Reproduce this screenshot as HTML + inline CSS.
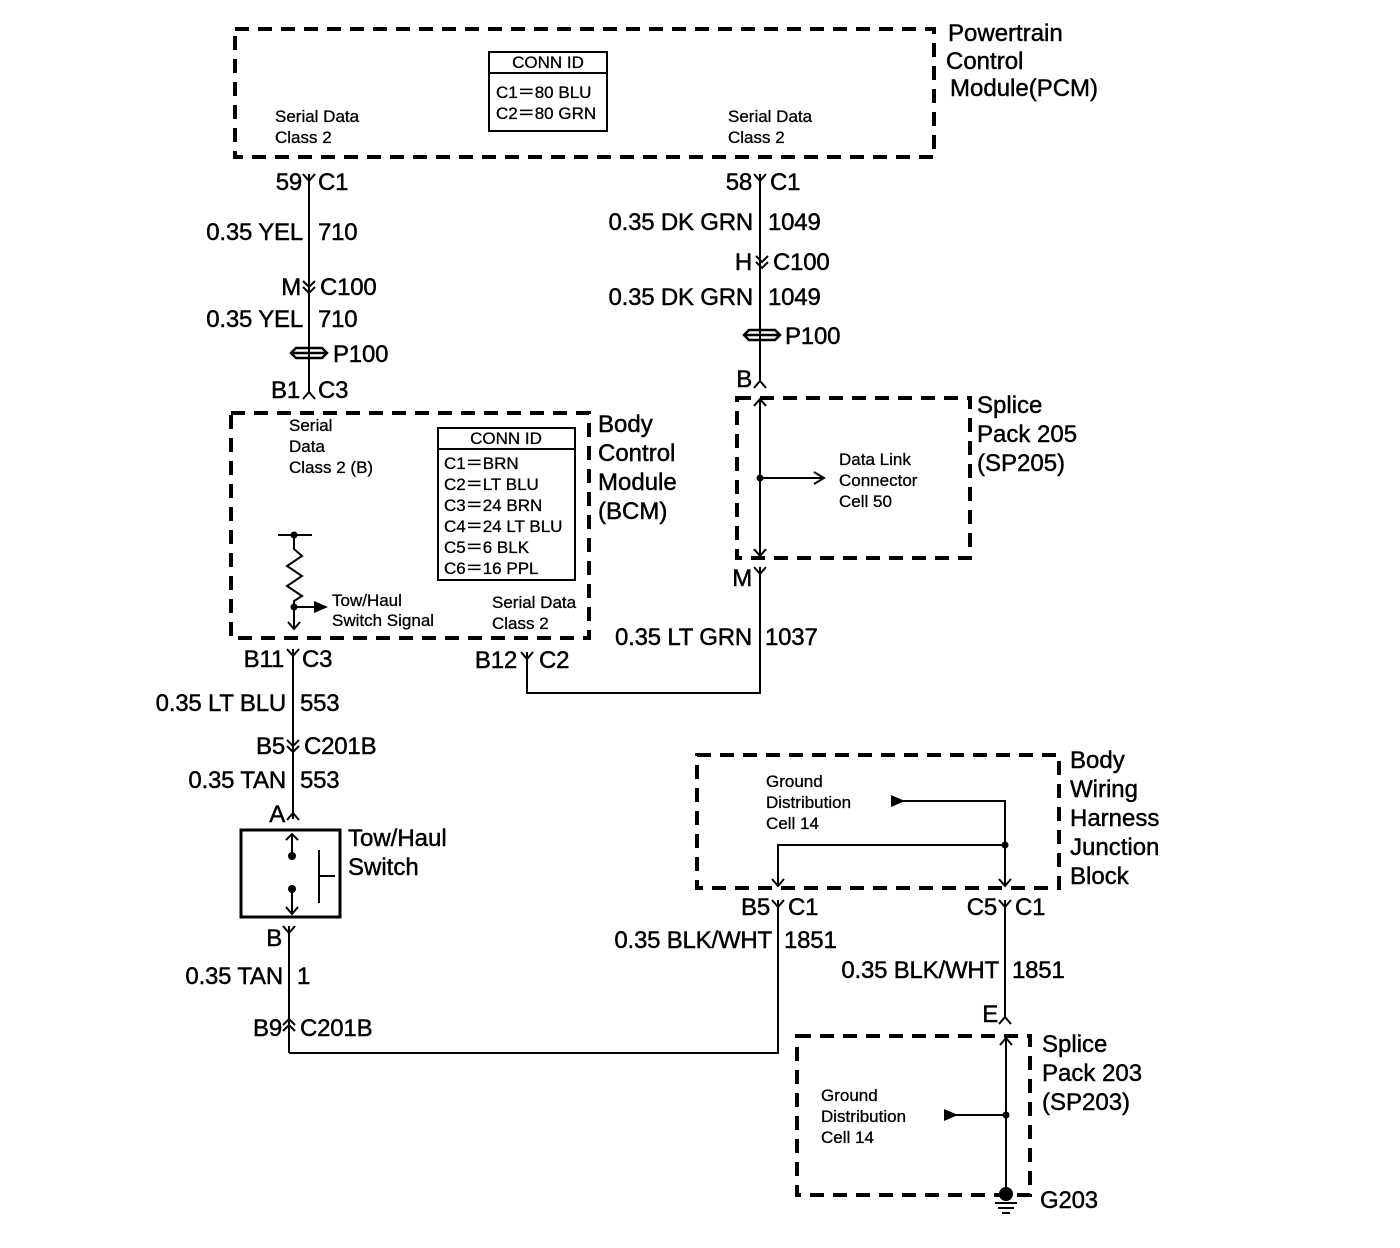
<!DOCTYPE html>
<html><head><meta charset="utf-8"><style>
html,body{margin:0;padding:0;background:#fff}
svg{display:block}
text{font-family:"Liberation Sans",Arial,sans-serif;fill:#000;stroke:#000;stroke-width:0.45}
.b{font-size:24px}
.w{font-size:24px;letter-spacing:-0.2px}
.s{font-size:17px;stroke-width:0.3}
.d{fill:none;stroke:#000;stroke-width:4;stroke-dasharray:14 9}
.l{fill:none;stroke:#000;stroke-width:2}
.r{text-anchor:end}
</style></head><body>
<svg width="1400" height="1248" viewBox="0 0 1400 1248" xmlns="http://www.w3.org/2000/svg">
<defs>
<g id="fy"><path class="l" d="M-6 0 L0 7 L6 0"/></g>
<g id="my"><path class="l" d="M-6 7 L0 0 L6 7"/></g>
<g id="dc"><path class="l" d="M-6 0 L0 6 L6 0 M-6 6 L0 12 L6 6"/></g>
<g id="uc"><path class="l" d="M-6 6 L0 0 L6 6 M-6 12 L0 6 L6 12"/></g>
<g id="p1"><path fill="none" stroke="#000" stroke-width="2.5" d="M-13 -5 L13 -5 L18 0 L13 5 L-13 5 L-18 0 Z M-18 0 L18 0"/></g>
</defs>

<!-- PCM -->
<rect class="d" x="235" y="29" width="699" height="128"/>
<text class="b" x="948" y="41">Powertrain</text>
<text class="b" x="946" y="69">Control</text>
<text class="b" x="950" y="96">Module(PCM)</text>
<rect class="l" x="489" y="52" width="118" height="79"/>
<line class="l" x1="489" y1="73" x2="607" y2="73"/>
<text class="s" x="548" y="68" text-anchor="middle">CONN ID</text>
<text class="s" x="496" y="98">C1＝80 BLU</text>
<text class="s" x="496" y="119">C2＝80 GRN</text>
<text class="s" x="275" y="122">Serial Data</text>
<text class="s" x="275" y="143">Class 2</text>
<text class="s" x="728" y="122">Serial Data</text>
<text class="s" x="728" y="143">Class 2</text>

<!-- Left PCM wire -->
<line class="l" x1="309" y1="174" x2="309" y2="392"/>
<use href="#fy" x="309" y="174"/>
<text class="w r" x="302" y="190">59</text><text class="w" x="318" y="190">C1</text>
<text class="w r" x="303" y="240">0.35 YEL</text><text class="w" x="318" y="240">710</text>
<use href="#dc" x="309" y="281"/>
<text class="w r" x="301" y="295">M</text><text class="w" x="320" y="295">C100</text>
<text class="w r" x="303" y="327">0.35 YEL</text><text class="w" x="318" y="327">710</text>
<use href="#p1" x="309" y="353"/>
<text class="w" x="333" y="362">P100</text>
<use href="#my" x="309" y="392"/>
<text class="w r" x="300" y="398">B1</text><text class="w" x="318" y="398">C3</text>

<!-- BCM -->
<rect class="d" x="231" y="413" width="358" height="225"/>
<text class="b" x="598" y="432">Body</text>
<text class="b" x="598" y="461">Control</text>
<text class="b" x="598" y="490">Module</text>
<text class="b" x="598" y="519">(BCM)</text>
<rect class="l" x="438" y="428" width="137" height="152"/>
<line class="l" x1="438" y1="449" x2="575" y2="449"/>
<text class="s" x="506" y="444" text-anchor="middle">CONN ID</text>
<text class="s" x="444" y="469">C1＝BRN</text>
<text class="s" x="444" y="490">C2＝LT BLU</text>
<text class="s" x="444" y="511">C3＝24 BRN</text>
<text class="s" x="444" y="532">C4＝24 LT BLU</text>
<text class="s" x="444" y="553">C5＝6 BLK</text>
<text class="s" x="444" y="574">C6＝16 PPL</text>
<text class="s" x="289" y="431">Serial</text>
<text class="s" x="289" y="452">Data</text>
<text class="s" x="289" y="473">Class 2 (B)</text>
<line class="l" x1="278" y1="535" x2="312" y2="535"/>
<circle cx="294" cy="535" r="3.5"/>
<path class="l" d="M294 535 L294 549 L302 556 L287 566 L302 576 L287 586 L302 596 L294 601 L294 628 M288 622 L294 629 L300 622"/>
<circle cx="294" cy="607" r="3.5"/>
<line class="l" x1="294" y1="607" x2="316" y2="607"/>
<path d="M314 601 L328 607 L314 613 Z"/>
<text class="s" x="332" y="606">Tow/Haul</text>
<text class="s" x="332" y="626">Switch Signal</text>
<text class="s" x="492" y="608">Serial Data</text>
<text class="s" x="492" y="629">Class 2</text>

<!-- BCM C3 wire down -->
<line class="l" x1="293" y1="649" x2="293" y2="819"/>
<use href="#fy" x="293" y="649"/>
<text class="w r" x="284" y="667">B11</text><text class="w" x="302" y="667">C3</text>
<text class="w r" x="286" y="711">0.35 LT BLU</text><text class="w" x="300" y="711">553</text>
<use href="#dc" x="293" y="740"/>
<text class="w r" x="285" y="754">B5</text><text class="w" x="304" y="754">C201B</text>
<text class="w r" x="286" y="788">0.35 TAN</text><text class="w" x="300" y="788">553</text>
<use href="#my" x="293" y="813"/>
<text class="w r" x="285" y="822">A</text>

<!-- Tow/Haul switch -->
<rect x="241" y="830" width="99" height="87" fill="none" stroke="#000" stroke-width="3"/>
<path class="l" d="M292 856 L292 834 M286 840 L292 834 L298 840"/>
<circle cx="292" cy="856" r="4"/>
<path class="l" d="M292 889 L292 914 M286 907 L292 914 L298 907"/>
<circle cx="292" cy="889" r="4"/>
<line class="l" x1="319" y1="850" x2="319" y2="903"/>
<line class="l" x1="319" y1="876" x2="335" y2="876"/>
<text class="b" x="348" y="846">Tow/Haul</text>
<text class="b" x="348" y="875">Switch</text>

<line class="l" x1="289" y1="926" x2="289" y2="1053"/>
<use href="#fy" x="289" y="926"/>
<text class="w r" x="282" y="946">B</text>
<text class="w r" x="283" y="984">0.35 TAN</text><text class="w" x="297" y="984">1</text>
<use href="#uc" x="289" y="1019"/>
<text class="w r" x="282" y="1036">B9</text><text class="w" x="300" y="1036">C201B</text>
<path class="l" d="M289 1053 L778 1053 L778 900"/>

<!-- Right PCM wire -->
<line class="l" x1="760" y1="174" x2="760" y2="382"/>
<use href="#fy" x="760" y="174"/>
<text class="w r" x="752" y="190">58</text><text class="w" x="770" y="190">C1</text>
<text class="w r" x="753" y="230">0.35 DK GRN</text><text class="w" x="768" y="230">1049</text>
<use href="#dc" x="762" y="256"/>
<text class="w r" x="752" y="270">H</text><text class="w" x="773" y="270">C100</text>
<text class="w r" x="753" y="305">0.35 DK GRN</text><text class="w" x="768" y="305">1049</text>
<use href="#p1" x="762" y="335"/>
<text class="w" x="785" y="344">P100</text>
<use href="#my" x="760" y="381"/>
<text class="w r" x="752" y="387">B</text>

<!-- SP205 -->
<rect class="d" x="737" y="398" width="233" height="160"/>
<text class="b" x="977" y="413">Splice</text>
<text class="b" x="977" y="442">Pack 205</text>
<text class="b" x="977" y="471">(SP205)</text>
<path class="l" d="M760 400 L760 556 M754 406 L760 399 L766 406 M754 549 L760 556 L766 549"/>
<circle cx="760" cy="478" r="3.5"/>
<line class="l" x1="760" y1="478" x2="822" y2="478"/>
<path class="l" d="M814 472 L824 478 L814 484"/>
<text class="s" x="839" y="465">Data Link</text>
<text class="s" x="839" y="486">Connector</text>
<text class="s" x="839" y="507">Cell 50</text>
<use href="#fy" x="760" y="567"/>
<text class="w r" x="752" y="586">M</text>
<path class="l" d="M760 567 L760 693 L527 693 L527 652"/>
<text class="w r" x="752" y="645">0.35 LT GRN</text><text class="w" x="765" y="645">1037</text>
<use href="#fy" x="527" y="652"/>
<text class="w r" x="517" y="668">B12</text><text class="w" x="539" y="668">C2</text>

<!-- BWHJB -->
<rect class="d" x="697" y="755" width="362" height="133"/>
<text class="b" x="1070" y="768">Body</text>
<text class="b" x="1070" y="797">Wiring</text>
<text class="b" x="1070" y="826">Harness</text>
<text class="b" x="1070" y="855">Junction</text>
<text class="b" x="1070" y="884">Block</text>
<text class="s" x="766" y="787">Ground</text>
<text class="s" x="766" y="808">Distribution</text>
<text class="s" x="766" y="829">Cell 14</text>
<path d="M891 795 L905 801 L891 807 Z"/>
<path class="l" d="M903 801 L1005 801 L1005 886 M999 879 L1005 886 L1011 879"/>
<circle cx="1005" cy="845" r="3.5"/>
<path class="l" d="M1005 845 L778 845 L778 886 M772 879 L778 886 L784 879"/>
<use href="#fy" x="778" y="900"/>
<text class="w r" x="770" y="915">B5</text><text class="w" x="788" y="915">C1</text>
<use href="#fy" x="1005" y="900"/>
<text class="w r" x="997" y="915">C5</text><text class="w" x="1015" y="915">C1</text>
<line class="l" x1="1005" y1="900" x2="1005" y2="1018"/>
<text class="w r" x="772" y="948">0.35 BLK/WHT</text><text class="w" x="784" y="948">1851</text>
<text class="w r" x="999" y="978">0.35 BLK/WHT</text><text class="w" x="1012" y="978">1851</text>
<use href="#my" x="1005" y="1017"/>
<text class="w r" x="998" y="1022">E</text>

<!-- SP203 -->
<rect class="d" x="797" y="1036" width="233" height="159"/>
<text class="b" x="1042" y="1052">Splice</text>
<text class="b" x="1042" y="1081">Pack 203</text>
<text class="b" x="1042" y="1110">(SP203)</text>
<path class="l" d="M1006 1038 L1006 1192 M1000 1045 L1006 1038 L1012 1045"/>
<circle cx="1006" cy="1115" r="3.5"/>
<line class="l" x1="1006" y1="1115" x2="955" y2="1115"/>
<path d="M944 1109 L958 1115 L944 1121 Z"/>
<text class="s" x="821" y="1101">Ground</text>
<text class="s" x="821" y="1122">Distribution</text>
<text class="s" x="821" y="1143">Cell 14</text>
<circle cx="1006" cy="1194" r="7"/>
<path class="l" d="M995 1203 L1017 1203 M998 1208 L1014 1208 M1002 1213 L1010 1213"/>
<text class="w" x="1040" y="1208">G203</text>
</svg>
</body></html>
